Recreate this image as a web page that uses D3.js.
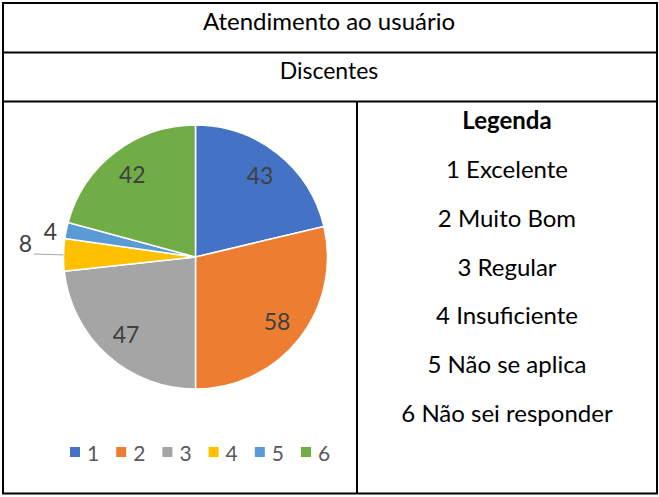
<!DOCTYPE html>
<html>
<head>
<meta charset="utf-8">
<script src="https://cdn.jsdelivr.net/npm/d3@7"></script>
<style>
  html, body { margin: 0; padding: 0; background: #ffffff; }
  svg { display: block; font-family: Lato, "Liberation Sans", sans-serif; }
</style>
</head>
<body>
<svg id="chart" width="659" height="497"></svg>
<script>
// Survey: "Atendimento ao usuário" — answers from students
const titleText = "Atendimento ao usuário";
const groupText = "Discentes";
const legendTitle = "Legenda";
const categories = ["1", "2", "3", "4", "5", "6"];
const categoryNames = ["Excelente", "Muito Bom", "Regular", "Insuficiente", "Não se aplica", "Não sei responder"];
const values = [43, 58, 47, 8, 4, 42];
const palette = ["#4472C4", "#ED7D31", "#A5A5A5", "#FFC000", "#5B9BD5", "#70AD47"];

const svg = d3.select("#chart");

// ---- table frame ----
const frame = { left: 3, right: 657, top: 3, row1: 52.5, row2: 101.5, bottom: 493.5, split: 357 };
const grid = svg.append("g").attr("stroke", "#000").attr("stroke-width", 2).attr("fill", "none");
grid.append("rect")
  .attr("x", frame.left).attr("y", frame.top)
  .attr("width", frame.right - frame.left).attr("height", frame.bottom - frame.top);
[frame.row1, frame.row2].forEach(y =>
  grid.append("line").attr("x1", frame.left).attr("x2", frame.right).attr("y1", y).attr("y2", y));
grid.append("line").attr("x1", frame.split).attr("x2", frame.split)
  .attr("y1", frame.row2).attr("y2", frame.bottom);

const midX = (frame.left + frame.right) / 2;
svg.append("text").attr("x", midX - 1).attr("y", 30)
  .attr("text-anchor", "middle").attr("font-size", 24).attr("fill", "#000").text(titleText);
svg.append("text").attr("x", midX - 1).attr("y", 79)
  .attr("text-anchor", "middle").attr("font-size", 23).attr("fill", "#000").text(groupText);

// ---- pie ----
const cx = 195.5, cy = 257, R = 132;
const color = d3.scaleOrdinal().domain(categories).range(palette);
const pie = d3.pie().sort(null).value(d => d.value);
const data = categories.map((c, i) => ({ cat: c, value: values[i] }));
const arcs = pie(data);

const arc = d3.arc().innerRadius(0).outerRadius(R);
const labelArc = d3.arc().innerRadius(104).outerRadius(104);

const gPie = svg.append("g").attr("transform", `translate(${cx},${cy})`);
gPie.selectAll("path.slice").data(arcs).join("path")
  .attr("class", "slice")
  .attr("d", arc)
  .attr("fill", d => color(d.data.cat))
  .attr("stroke", "#fff").attr("stroke-width", 1.5).attr("stroke-linejoin", "round");

// point on a ray at the slice's mid angle
function polar(a, r) { return [r * Math.sin(a), -r * Math.cos(a)]; }
const mid = d => (d.startAngle + d.endAngle) / 2;

// small slices get their labels outside the pie
const outside = new Map([[3, { r: 162, leader: true }], [4, { r: 146, leader: false }]]);

arcs.forEach((d, i) => {
  const lab = gPie.append("text")
    .attr("font-size", 23).attr("fill", "#404040")
    .text(d.data.value);
  if (!outside.has(i)) {
    const [x, y] = labelArc.centroid(d);
    lab.attr("x", x).attr("y", y).attr("text-anchor", "middle").attr("dominant-baseline", "central");
  } else {
    const cfg = outside.get(i);
    const a = mid(d);
    const [x, y] = polar(a, cfg.r);
    if (cfg.leader) {
      const [x0, y0] = polar(a, R);
      gPie.append("line")
        .attr("x1", x0).attr("y1", y0).attr("x2", x).attr("y2", y - 0.5)
        .attr("stroke", "#A6A6A6").attr("stroke-width", 1);
      lab.attr("x", x - 1.5).attr("y", y - 2).attr("text-anchor", "end");
    } else {
      lab.attr("x", x - 2).attr("y", y + 12.5).attr("text-anchor", "middle");
    }
  }
});

// ---- legend under the pie ----
const legX = d3.scalePoint().domain(categories).range([70, 301]);
const gLeg = svg.append("g").attr("transform", "translate(0,452)");
const item = gLeg.selectAll("g").data(categories).join("g")
  .attr("transform", d => `translate(${legX(d)},0)`);
item.append("rect").attr("x", 0).attr("y", -5).attr("width", 10).attr("height", 10)
  .attr("fill", d => color(d));
item.append("text").attr("x", 17).attr("y", 0).attr("dominant-baseline", "central")
  .attr("font-size", 21).attr("fill", "#595959").text(d => d);

// ---- category key in the right column ----
const keyX = (frame.split + frame.right) / 2;
const keyY = d3.scalePoint().domain(d3.range(categories.length + 1)).range([129, 422]);
svg.append("text").attr("x", keyX).attr("y", keyY(0))
  .attr("text-anchor", "middle").attr("font-size", 24).attr("font-weight", "bold")
  .attr("fill", "#000").text(legendTitle);
svg.selectAll("text.key").data(categories).join("text")
  .attr("class", "key")
  .attr("x", keyX).attr("y", (d, i) => keyY(i + 1))
  .attr("text-anchor", "middle").attr("font-size", 24).attr("fill", "#000")
  .text((d, i) => `${d} ${categoryNames[i]}`);
</script>
</body>
</html>
